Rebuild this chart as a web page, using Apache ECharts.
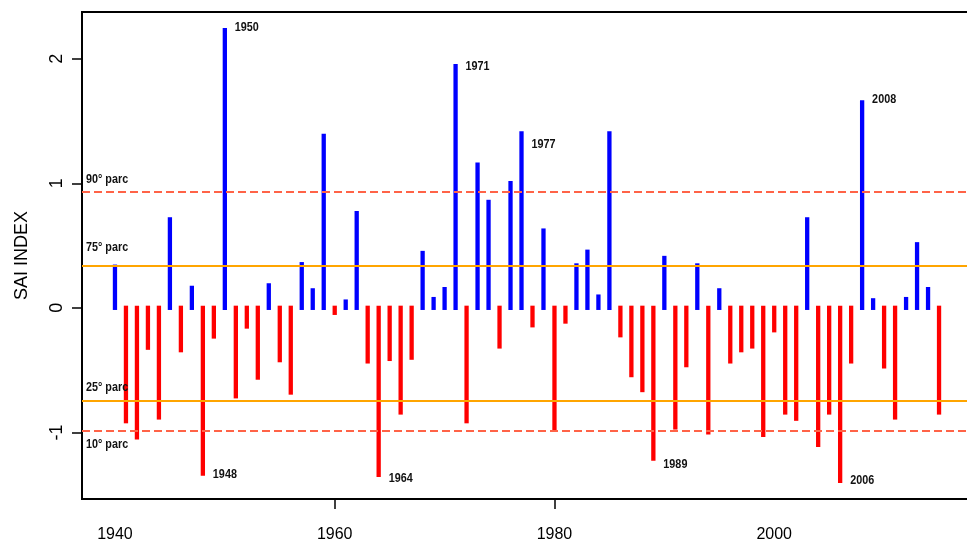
<!DOCTYPE html>
<html>
<head>
<meta charset="utf-8">
<title>SAI INDEX</title>
<script src="https://cdn.jsdelivr.net/npm/echarts@6/dist/echarts.min.js"></script>
<style>
  html, body { margin: 0; padding: 0; background: #fff; }
  #chart { width: 967px; height: 543px; }
</style>
</head>
<body>
<div id="chart"></div>
<script>
// Yearly SAI index, 1940-2015
const years = [
  1940, 1941, 1942, 1943, 1944, 1945, 1946, 1947, 1948, 1949,
  1950, 1951, 1952, 1953, 1954, 1955, 1956, 1957, 1958, 1959,
  1960, 1961, 1962, 1963, 1964, 1965, 1966, 1967, 1968, 1969,
  1970, 1971, 1972, 1973, 1974, 1975, 1976, 1977, 1978, 1979,
  1980, 1981, 1982, 1983, 1984, 1985, 1986, 1987, 1988, 1989,
  1990, 1991, 1992, 1993, 1994, 1995, 1996, 1997, 1998, 1999,
  2000, 2001, 2002, 2003, 2004, 2005, 2006, 2007, 2008, 2009,
  2010, 2011, 2012, 2013, 2014, 2015
];
const sai = [
   0.33, -0.91, -1.04, -0.32, -0.88,  0.71, -0.34,  0.16, -1.33, -0.23,
   2.23, -0.71, -0.15, -0.56,  0.18, -0.42, -0.68,  0.35,  0.14,  1.38,
  -0.04,  0.05,  0.76, -0.43, -1.34, -0.41, -0.84, -0.40,  0.44,  0.07,
   0.15,  1.94, -0.91,  1.15,  0.85, -0.31,  1.00,  1.40, -0.14,  0.62,
  -0.97, -0.11,  0.34,  0.45,  0.09,  1.40, -0.22, -0.54, -0.66, -1.21,
   0.40, -0.96, -0.46,  0.34, -1.00,  0.14, -0.43, -0.34, -0.31, -1.02,
  -0.18, -0.84, -0.89,  0.71, -1.10, -0.84, -1.39, -0.43,  1.65,  0.06,
  -0.47, -0.88,  0.07,  0.51,  0.15, -0.84
];

// Percentile reference levels and the level each caption sits at
const percNames = ['90° parc', '75° parc', '25° parc', '10° parc'];
const percValues = [0.925, 0.339, -0.752, -0.993];
const percCaptionLevels = [1.031, 0.489, -0.639, -1.092];

// Years called out next to the extreme bars, with the level each note sits at
const noteYears = [1948, 1950, 1964, 1971, 1977, 1989, 2006, 2008];
const noteLevels = [-1.333, 2.255, -1.365, 1.94, 1.316, -1.253, -1.381, 1.675];

// Axis ticks
const xTickLabels = [1940, 1960, 1980, 2000];
const xTickMarks = [1960, 1980];
const yTicks = [-1, 0, 1, 2];

// Axis extents padded by 4% of the data range on each side
const xLo = Math.min(...years), xHi = Math.max(...years);
const xPad = (xHi - xLo) * 0.04;
const yLo = Math.min(...sai), yHi = Math.max(...sai);
const yPad = (yHi - yLo) * 0.04;

const SANS = '"Liberation Sans", Arial, sans-serif';
const SQUEEZE = 0.8;   // condensed look for the small captions

const chart = echarts.init(document.getElementById('chart'), null, { renderer: 'canvas' });

const percLine = [
  { color: '#ff6347', type: [8, 4] },
  { color: '#ffa500', type: 'solid' },
  { color: '#ffa500', type: 'solid' },
  { color: '#ff6347', type: [8, 4] }
];

function caption(x, y, text) {
  return {
    type: 'text',
    x: x, y: y,
    scaleX: SQUEEZE,
    style: {
      text: text,
      font: 'bold 13.5px ' + SANS,
      fill: '#111',
      align: 'left',
      verticalAlign: 'middle'
    }
  };
}

chart.setOption({
  animation: false,
  backgroundColor: '#ffffff',
  grid: {
    left: 82, top: 12, width: 890, height: 487,
    containLabel: false,
    outerBoundsMode: 'none',
    show: true, borderColor: '#000', borderWidth: 2, backgroundColor: 'transparent'
  },
  xAxis: {
    type: 'value',
    min: xLo - xPad,
    max: xHi + xPad,
    splitLine: { show: false },
    axisLine: { show: true, onZero: false, lineStyle: { color: '#000', width: 2 } },
    axisTick: {
      show: true, inside: false, length: 10,
      customValues: xTickMarks,
      lineStyle: { color: '#000', width: 1.5 }
    },
    axisLabel: {
      customValues: xTickLabels,
      formatter: function (v) { return String(v); },
      margin: 28,
      fontFamily: SANS, fontSize: 16, color: '#000'
    }
  },
  yAxis: {
    type: 'value',
    min: yLo - yPad,
    max: yHi + yPad,
    name: 'SAI INDEX',
    nameLocation: 'middle',
    nameRotate: 90,
    nameGap: 51,
    nameTextStyle: { fontFamily: SANS, fontSize: 18, color: '#000' },
    splitLine: { show: false },
    axisLine: { show: false },
    axisTick: {
      show: true, length: 10,
      customValues: yTicks,
      lineStyle: { color: '#000', width: 1.5 }
    },
    axisLabel: {
      customValues: yTicks,
      rotate: 90,
      margin: 16,
      fontFamily: SANS, fontSize: 18, color: '#000'
    }
  },
  series: [
    {
      // Vertical SAI lines: blue above zero, red below
      type: 'custom',
      name: 'SAI',
      data: years.map((y, i) => [y, sai[i]]),
      encode: { x: 0, y: 1 },
      renderItem: function (params, api) {
        const x = api.value(0), v = api.value(1);
        const p0 = api.coord([x, 0]);
        const p1 = api.coord([x, v]);
        return {
          type: 'line',
          shape: { x1: p0[0], y1: p0[1], x2: p1[0], y2: p1[1] },
          style: { stroke: v >= 0 ? '#0000ff' : '#ff0000', lineWidth: 4.3, lineCap: 'square' }
        };
      },
      markLine: {
        silent: true,
        symbol: ['none', 'none'],
        animation: false,
        label: { show: false },
        data: percValues.map((v, i) => ({
          yAxis: v,
          lineStyle: { color: percLine[i].color, type: percLine[i].type, width: 2 }
        }))
      }
    },
    {
      // Percentile captions at the left edge of the plot
      type: 'custom',
      name: 'percentile captions',
      silent: true,
      data: percCaptionLevels.map((lv, i) => [xLo - xPad, lv, i]),
      encode: { x: 0, y: 1 },
      renderItem: function (params, api) {
        const p = api.coord([api.value(0), api.value(1)]);
        return caption(p[0] + 4, p[1], percNames[api.value(2)]);
      }
    },
    {
      // Year notes beside the extreme values
      type: 'custom',
      name: 'notes',
      silent: true,
      data: noteYears.map((y, i) => [y, noteLevels[i]]),
      encode: { x: 0, y: 1 },
      renderItem: function (params, api) {
        const p = api.coord([api.value(0), api.value(1)]);
        return caption(p[0] + 10, p[1], String(api.value(0)));
      }
    }
  ]
});
</script>
</body>
</html>
